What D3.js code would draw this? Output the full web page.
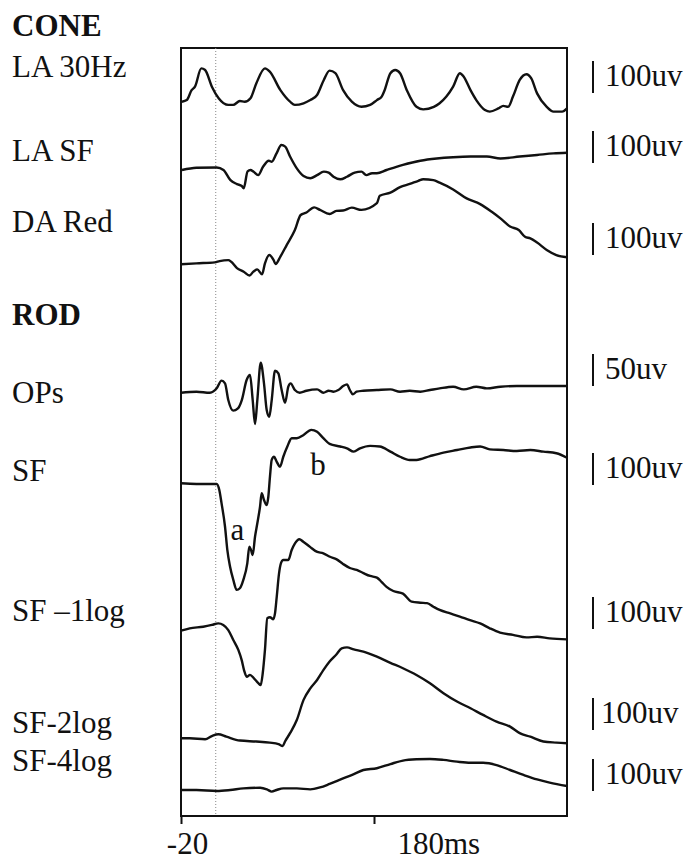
<!DOCTYPE html>
<html>
<head>
<meta charset="utf-8">
<script src="https://cdn.jsdelivr.net/npm/d3@7"></script>
<style>
body { margin: 0; background: #fff; }
text { font-family: "Liberation Serif", "Times New Roman", serif; fill: #111; }
</style>
</head>
<body>
<svg width="687" height="863"></svg>
<script>
// ---- data: [ms, uV] ----
var groupNames = ["CONE", "ROD"];
var traceNames = ["LA 30Hz", "LA SF", "DA Red", "OPs", "SF", "SF \u20131log", "SF-2log", "SF-4log"];
var scaleBars = [100, 100, 100, 50, 100, 100, 100, 100];
var xTicks = [-20, 180];
var xTickLabels = ["-20", "180ms"];
var flashMark = 16;

var la30Hz = [[-19,0],[-14,5],[-9,36],[-5.5,47],[1,104],[5,99],[12,47],[19,11],[29,-10],[34,-10],[41,2],[46,0],[52,11],[58,57],[67,104],[72,94],[83,36],[93,0],[98,-10],[107,-5],[114,5],[121,21],[128,68],[134,97],[140,89],[148,36],[157,0],[167,-16],[176,-10],[183,5],[188,16],[191,36],[197,89],[202,99],[207,89],[214,36],[224,-16],[231,-24],[242,-16],[248,-5],[255,16],[262,47],[269,89],[273,78],[280,36],[286,5],[295,-26],[300,-31],[309,-21],[314,-13],[319,-16],[324,16],[331,68],[338,86],[343,73],[349,26],[359,-16],[366,-31],[375,-31],[380,-21]];
var laSF = [[-19,0],[-4,7],[17,8],[24,0],[31,-31],[38,-44],[43,-50],[45,-57],[49,-4],[52,0],[55,-5],[60,-16],[65,10],[71,29],[74,26],[79,52],[84,78],[88,73],[93,42],[100,5],[107,-19],[114,-26],[121,-16],[128,-5],[133,-8],[138,-21],[145,-29],[152,-21],[160,-8],[167,-5],[172,-16],[178,-10],[183,-10],[193,0],[210,16],[228,29],[245,36],[262,40],[280,42],[297,42],[311,36],[331,42],[349,47],[366,52],[380,54]];
var daRed = [[-20,0],[-4,3],[15,6],[20,10],[29,13],[32,8],[38,-12],[45,-23],[51,-35],[55,-23],[59,-16],[64,-31],[67,3],[71.5,29],[76,13],[78,1],[83,24],[89.5,60],[98,107],[104,154],[110,162],[118,178],[124,170],[134,157],[141,167],[148,168],[157,177],[167,170],[183,191],[186,214],[197,224],[207,241],[217,251],[226,261],[231,266],[241.5,263],[248,255],[262,234],[276,206],[290,188],[302,164],[312,141],[321,118],[330,107],[336.5,86],[342,81],[349,68],[359,45],[369,29],[380,22]];
var ops = [[-20,0],[-4,1.6],[10,0],[17,6.8],[22,18.8],[25.6,14.6],[29,-11.5],[34,-28],[39,-24.5],[43,-11.5],[48,19.8],[51.5,27.6],[54.3,-11.5],[56.7,-49],[59.1,-11.5],[62.6,46.9],[66,14.6],[68.8,-27],[71.5,-37.5],[74,-11.5],[77.4,34.4],[80.9,30.2],[84.3,4.2],[87.8,-15.6],[91.2,9.4],[93.6,14.6],[98,4.2],[103,0],[110,3.1],[121,5.2],[127.5,0],[133,3.1],[138,1.6],[143,4.2],[148,10.4],[152,13],[155,4.2],[158,-2.6],[162,1.6],[169,3.1],[183,4.2],[197,5.2],[207,1.6],[217,3.1],[228,1.6],[238,4.2],[248,6.8],[262,9.4],[273,5.2],[286,9.4],[297,6.8],[311,9.4],[328,10.4],[349,10.4],[366,10.4],[380,10.4]];
var sf = [[-20,0],[-4,-2],[17,-2],[19.7,-21],[22,-62],[25.6,-135],[28,-208],[30.8,-260],[34.2,-302],[37.7,-333],[41,-328],[44.6,-302],[48.7,-250],[50.8,-198],[52.5,-208],[54.3,-224],[56.7,-167],[59.1,-125],[61.9,-73],[63.6,-31],[66,-52],[68.8,-68],[70.5,-42],[72.2,21],[74,73],[76.4,83],[79.1,68],[82.6,52],[86,83],[90.2,115],[94.7,141],[100,141],[107,151],[115,167],[121,161],[127.5,141],[134,123],[145,115],[152,109],[159,99],[165.5,109],[176,117],[186,115],[197,99],[207,83],[217,73],[224,73],[238,85],[252,96],[266,104],[280,112],[290,115],[300,106],[314,104],[328,101],[342,104],[355.5,99],[369,94],[380,80]];
var sfMinus1 = [[-20,0],[-11,7.5],[3,12.5],[12,18],[18.7,23],[23.8,18],[29,2],[34.2,-29],[39.4,-60],[42.9,-92],[45.3,-123],[48.1,-144],[51.5,-138],[55.6,-149],[60.1,-164],[62.6,-170],[64.7,-133],[67,-60],[69.4,39],[72.2,42],[75.7,36],[77.4,54],[79.2,106],[81.6,179],[83.6,211],[86,221],[91.2,221],[94.7,252],[98.1,273],[102.6,286],[106.7,278],[113.7,262],[120.6,247],[127.5,242],[134.4,231],[141.3,223],[148.2,208],[155,196],[162,190],[169,180],[176,171],[183,166],[188,152],[193,137],[200,124],[210,116],[219,91],[228,87.5],[235,86],[241.5,75],[248,65],[259,54],[269,44],[279.5,33],[290,23],[300,7.5],[310.6,-6],[324,-13],[338,-21],[349,-19],[362,-24],[380,-27]];
var sfMinus2 = [[-20,0],[-11,0],[5,-3],[12,7],[18.7,12.5],[27,5],[41,-7],[58,-10],[72,-13.5],[81,-18],[85.4,-24],[87.8,-10],[93,16],[100,57],[107,120],[114,156],[121,182],[127.5,213],[134,240],[141,262],[146.5,281],[152,284],[159,278],[169,271],[183,255],[197,236],[210,219],[224,198],[238,172],[252,141],[266,115],[280,94],[293,73],[307,52],[321,36.5],[331,16],[342,5],[355.5,-10],[369,-13.5],[380,-15.6]];
var sfMinus4 = [[-20,0],[-4,0],[17,-3],[31,0],[44.6,5],[62,7],[69,2],[74,-5],[79,0],[86,5],[100,5],[114,2],[124,8],[134,19],[148,36.5],[158.6,49],[169,62.5],[183,68],[197,81],[210,92],[224,96],[238,97],[252,94],[266,88.5],[280,85],[293,85],[307,78],[321,62.5],[335,47],[349,33],[362,23],[380,12.5]];
var traces = [la30Hz, laSF, daRed, ops, sf, sfMinus1, sfMinus2, sfMinus4];
var waveLabels = [{text: "a", t: 38.5, v: -177}, {text: "b", t: 122, v: 26}];

// ---- layout (pixels) ----
var svg = d3.select("svg"),
    box = {left: 181, right: 567, top: 48, bottom: 816},
    barLen = 32,
    baseY = [101.7, 170, 264.3, 392.7, 483.3, 630.7, 738.3, 790],
    labelY = [77, 161, 232, 403, 481, 621, 733, 771],
    groupY = [36, 325],
    barBottom = [93, 163, 255, 386, 485, 629, 730, 791],
    fontSize = 31;

var x = d3.scaleLinear().domain([-20, 380]).range([box.left, box.right]);

var yScales = traces.map(function(d, i) {
    return d3.scaleLinear().domain([0, scaleBars[i]]).range([baseY[i], baseY[i] - barLen]);
});

// frame
svg.append("rect")
    .attr("x", box.left).attr("y", box.top)
    .attr("width", box.right - box.left).attr("height", box.bottom - box.top)
    .attr("fill", "none").attr("stroke", "#111").attr("stroke-width", 2);

// dotted stimulus line
svg.append("line")
    .attr("x1", x(flashMark)).attr("x2", x(flashMark))
    .attr("y1", box.top).attr("y2", box.bottom)
    .attr("stroke", "#888").attr("stroke-width", 1)
    .attr("stroke-dasharray", "1,2");

// x axis
var xAxis = svg.append("g")
    .attr("transform", "translate(0," + box.bottom + ")")
    .call(d3.axisBottom(x).tickValues(xTicks).tickSize(8).tickFormat(function(d, i) { return xTickLabels[i]; }));
xAxis.select(".domain").remove();
xAxis.selectAll("line").attr("stroke", "#111").attr("stroke-width", 2);
xAxis.selectAll("text")
    .attr("font-size", fontSize)
    .attr("font-family", "Liberation Serif, Times New Roman, serif")
    .attr("fill", "#111")
    .attr("dy", null)
    .attr("y", 38)
    .attr("text-anchor", function(d, i) { return i === 0 ? "middle" : "start"; })
    .attr("dx", function(d, i) { return i === 0 ? 6 : 23; });

// traces
var line = d3.line().curve(d3.curveMonotoneX);
svg.append("g").selectAll("path")
    .data(traces)
    .enter().append("path")
    .attr("fill", "none")
    .attr("stroke", "#111")
    .attr("stroke-width", 2.4)
    .attr("stroke-linejoin", "round")
    .attr("d", function(d, i) {
        return line.x(function(p) { return x(p[0]); }).y(function(p) { return yScales[i](p[1]); })(d);
    });

// a / b wave labels on SF trace
svg.append("g").selectAll("text")
    .data(waveLabels)
    .enter().append("text")
    .attr("x", function(d) { return x(d.t); })
    .attr("y", function(d) { return yScales[4](d.v); })
    .attr("text-anchor", "middle")
    .attr("font-size", fontSize)
    .text(function(d) { return d.text; });

// left labels
svg.append("g").selectAll("text")
    .data(groupNames)
    .enter().append("text")
    .attr("x", 12)
    .attr("y", function(d, i) { return groupY[i]; })
    .attr("font-size", fontSize)
    .attr("font-weight", "bold")
    .text(function(d) { return d; });

svg.append("g").selectAll("text")
    .data(traceNames)
    .enter().append("text")
    .attr("x", 12)
    .attr("y", function(d, i) { return labelY[i]; })
    .attr("font-size", fontSize)
    .text(function(d) { return d; });

// scale bars
var bars = svg.append("g").selectAll("g")
    .data(scaleBars)
    .enter().append("g");

bars.append("line")
    .attr("x1", 593).attr("x2", 593)
    .attr("y1", function(d, i) { return barBottom[i]; })
    .attr("y2", function(d, i) { return barBottom[i] - (yScales[i](0) - yScales[i](d)); })
    .attr("stroke", "#111").attr("stroke-width", 2);

bars.append("text")
    .attr("x", function(d, i) { return i === 6 ? 601 : 605; })
    .attr("y", function(d, i) { return barBottom[i] - 7; })
    .attr("font-size", fontSize)
    .text(function(d) { return d + "uv"; });
</script>
</body>
</html>
